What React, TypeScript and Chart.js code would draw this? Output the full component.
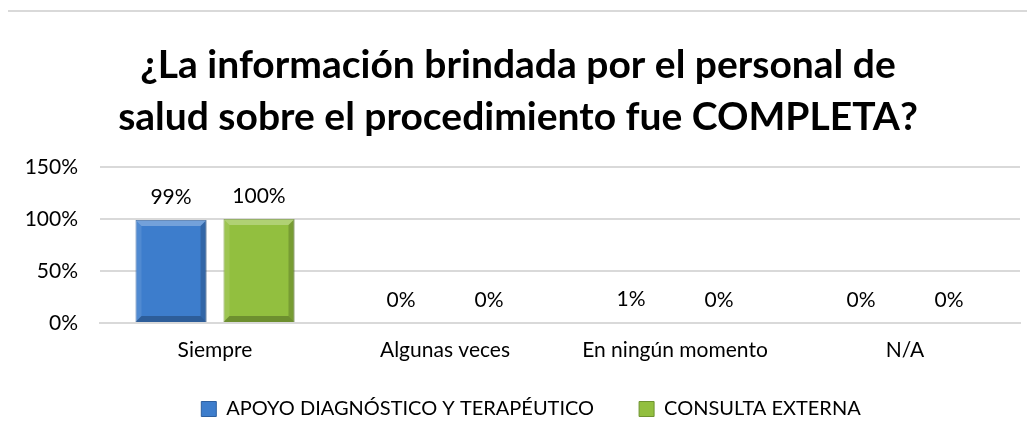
import React, { useEffect, useRef } from "react";
import { Chart, registerables } from "chart.js";

Chart.register(...registerables);

const categories = ["Siempre", "Algunas veces", "En ningún momento", "N/A"];
const apoyo = [99, 0, 1, 0];
const consulta = [100, 0, 0, 0];
const seriesNames = ["APOYO DIAGNÓSTICO Y TERAPÉUTICO", "CONSULTA EXTERNA"];
const titleLines = [
  "¿La información brindada por el personal de",
  "salud sobre el procedimiento fue COMPLETA?",
];
const yTicks = [0, 50, 100, 150];

const FONT = "Lato, 'Open Sans', sans-serif";

const shiftBoxes = {
  id: "shiftBoxes",
  afterLayout(chart: any) {
    if (chart.legend) {
      chart.legend.left += 21;
      chart.legend.right += 21;
      chart.legend.top -= 24;
      chart.legend.bottom -= 24;
    }
    if (chart.titleBlock) {
      chart.titleBlock.left += 8;
      chart.titleBlock.right += 8;
    }
  },
};

const bevel = {
  id: "bevel",
  afterDatasetsDraw(chart: any) {
    const ctx = chart.ctx;
    ctx.save();
    chart.data.datasets.forEach((_ds: any, i: number) => {
      const meta = chart.getDatasetMeta(i);
      meta.data.forEach((bar: any) => {
        const h = bar.base - bar.y;
        if (h < 12) return;
        const l = bar.x - bar.width / 2;
        const r = bar.x + bar.width / 2;
        const t = bar.y;
        const b = bar.base;
        const s = 6;
        ctx.fillStyle = "rgba(255,255,255,0.28)";
        ctx.beginPath();
        ctx.moveTo(l, t);
        ctx.lineTo(r, t);
        ctx.lineTo(r - s, t + s);
        ctx.lineTo(l + s, t + s);
        ctx.closePath();
        ctx.fill();
        ctx.fillStyle = "rgba(255,255,255,0.1)";
        ctx.beginPath();
        ctx.moveTo(l, t);
        ctx.lineTo(l + s, t + s);
        ctx.lineTo(l + s, b - s);
        ctx.lineTo(l, b);
        ctx.closePath();
        ctx.fill();
        ctx.fillStyle = "rgba(0,0,0,0.18)";
        ctx.beginPath();
        ctx.moveTo(r, t);
        ctx.lineTo(r - s, t + s);
        ctx.lineTo(r - s, b - s);
        ctx.lineTo(r, b);
        ctx.closePath();
        ctx.fill();
        ctx.fillStyle = "rgba(0,0,0,0.25)";
        ctx.beginPath();
        ctx.moveTo(l, b);
        ctx.lineTo(l + s, b - s);
        ctx.lineTo(r - s, b - s);
        ctx.lineTo(r, b);
        ctx.closePath();
        ctx.fill();
      });
    });
    ctx.restore();
  },
};

const dataLabels = {
  id: "dataLabels",
  afterDatasetsDraw(chart: any) {
    const ctx = chart.ctx;
    ctx.save();
    ctx.font = `21px ${FONT}`;
    ctx.fillStyle = "#000";
    ctx.textAlign = "center";
    ctx.textBaseline = "alphabetic";
    chart.data.datasets.forEach((ds: any, i: number) => {
      const meta = chart.getDatasetMeta(i);
      meta.data.forEach((bar: any, j: number) => {
        ctx.fillText(ds.data[j] + "%", bar.x, bar.y - 16);
      });
    });
    ctx.restore();
  },
};

export default function App() {
  const ref = useRef<HTMLCanvasElement>(null);
  useEffect(() => {
    if (!ref.current) return;
    const chart = new Chart(ref.current, {
      type: "bar",
      data: {
        labels: categories,
        datasets: [
          {
            label: seriesNames[0],
            data: apoyo,
            backgroundColor: "#3d7dcc",
            borderColor: "#2d5f9f",
            borderWidth: 1,
            categoryPercentage: 0.765,
            barPercentage: 0.807,
          },
          {
            label: seriesNames[1],
            data: consulta,
            backgroundColor: "#92bf3f",
            borderColor: "#6f9330",
            borderWidth: 1,
            categoryPercentage: 0.765,
            barPercentage: 0.807,
          },
        ],
      },
      options: {
        animation: false,
        responsive: false,
        layout: { padding: { left: 0, right: 15, top: 39, bottom: -14 } },
        plugins: {
          title: {
            display: true,
            text: titleLines,
            font: { family: FONT, size: 39, weight: "bold", lineHeight: 1.333 },
            color: "#000",
            padding: { top: 0, bottom: 24 },
          },
          legend: {
            position: "bottom",
            labels: {
              font: { family: FONT, size: 20 },
              color: "#000",
              boxWidth: 15,
              boxHeight: 15,
              padding: 45,
            },
          },
          tooltip: { enabled: false },
        },
        scales: {
          x: {
            grid: { display: false },
            border: { color: "#d9d9d9", width: 2 },
            afterFit(scale: any) {
              scale.height = 55;
            },
            ticks: { font: { family: FONT, size: 21 }, color: "#000", padding: 7 },
          },
          y: {
            min: 0,
            max: 150,
            afterBuildTicks(scale: any) {
              scale.ticks = yTicks.map((v) => ({ value: v }));
            },
            afterFit(scale: any) {
              scale.width = 100;
            },
            grid: { color: "#d9d9d9", lineWidth: 2, drawTicks: false },
            border: { display: false },
            ticks: {
              font: { family: FONT, size: 21 },
              color: "#000",
              padding: 22,
              callback: (v: any) => v + "%",
            },
          },
        },
      },
      plugins: [shiftBoxes, bevel, dataLabels],
    });
    return () => chart.destroy();
  }, []);
  return (
    <div style={{ position: "relative", width: 1035, height: 439, margin: -8, background: "#fff" }}>
      <div
        style={{
          position: "absolute",
          left: 3,
          top: 10,
          width: 1040,
          height: 440,
          border: "2px solid #d9d9d9",
          boxSizing: "border-box",
        }}
      />
      <canvas ref={ref} width={1035} height={439} style={{ position: "absolute", left: 0, top: 0 }} />
    </div>
  );
}
